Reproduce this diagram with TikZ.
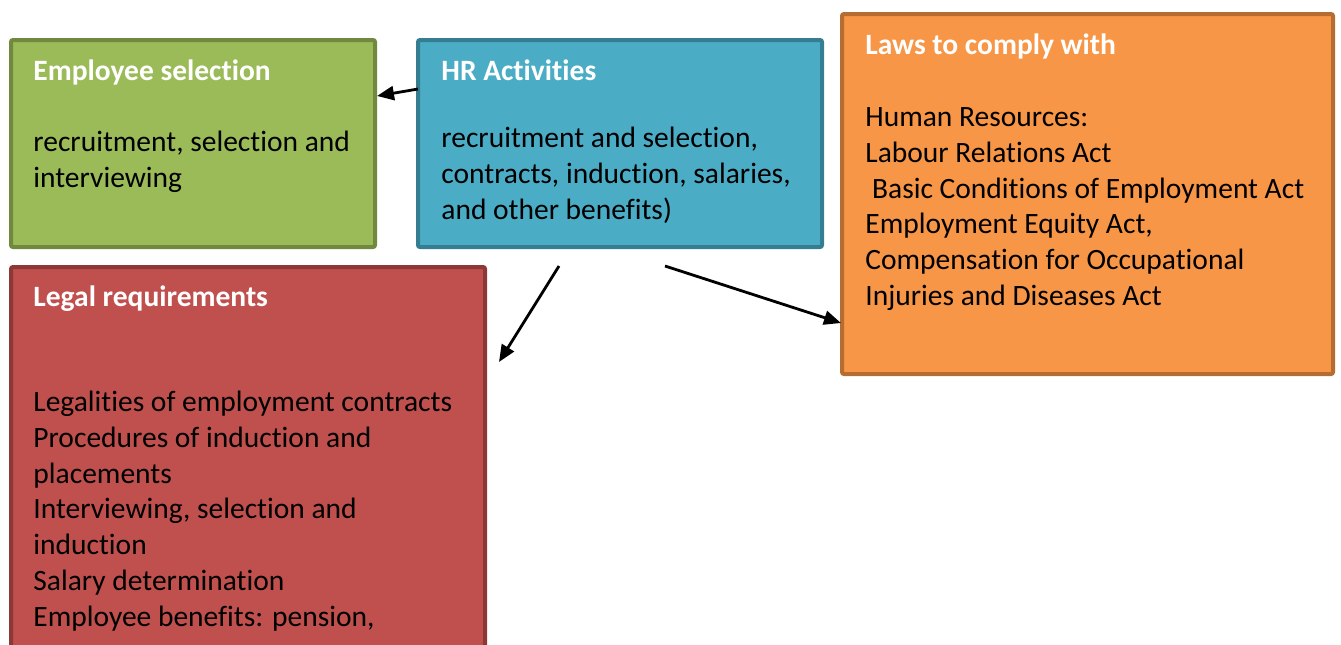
\documentclass[tikz,border=0pt]{standalone}
\usepackage{fontspec}
\setmainfont{Carlito}[Ligatures=NoCommon]
\usetikzlibrary{calc,arrows.meta}
\definecolor{gfill}{HTML}{9BBB59}
\definecolor{gline}{HTML}{71893F}
\definecolor{bfill}{HTML}{4BACC6}
\definecolor{bline}{HTML}{357D91}
\definecolor{ofill}{HTML}{F79646}
\definecolor{oline}{HTML}{B66D31}
\definecolor{rfill}{HTML}{C0504D}
\definecolor{rline}{HTML}{8C3836}
\tikzset{
  panel/.style={rectangle, line width=2pt, rounded corners=1pt, anchor=north west, inner sep=0pt, outer sep=0pt},
  head/.style={anchor=base west, inner sep=0pt, text=white, font=\fontsize{14.75}{18}\selectfont\bfseries},
  body/.style={anchor=base west, inner sep=0pt, text=black, font=\fontsize{14.75}{18}\selectfont},
  conn/.style={line width=1.4pt, -{Triangle[length=8.5pt,width=7pt]}}
}
\begin{document}
\begin{tikzpicture}[x=0.5pt,y=-0.5pt]
\useasboundingbox (0,0) rectangle (1341,644);
\clip (0,0) rectangle (1341,644);
% panels
\node[panel, fill=gfill, draw=gline, minimum width=182pt, minimum height=103.5pt] (green) at (11,40) {};
\node[panel, fill=bfill, draw=bline, minimum width=202pt, minimum height=103.5pt] (blue) at (418,40) {};
\node[panel, fill=ofill, draw=oline, minimum width=245.5pt, minimum height=180pt] (orange) at (842,14) {};
\node[panel, fill=rfill, draw=rline, minimum width=237pt, minimum height=216pt] (red) at (11,267) {};
% green text
\node[head] (gh) at (33,80) {Employee selection};
\node[body] (gb1) at (33,151) {recruitment, selection and};
\node[body] (gb2) at (33,187) {interviewing};
% blue text
\node[head] (bh) at (441,80) {HR Activities};
\node[body] (bb1) at (441,147) {recruitment and selection,};
\node[body] (bb2) at (441,183) {contracts, induction, salaries,};
\node[body] (bb3) at (441,219) {and other benefits)};
% orange text
\node[head] (oh) at (865,54) {Laws to comply with};
\node[body] (ob1) at (865,126) {Human Resources:};
\node[body] (ob2) at (865,162) {Labour Relations Act};
\node[body] (ob3) at (865,198) {\ Basic Conditions of Employment Act};
\node[body] (ob4) at (865,233) {Employment Equity Act,};
\node[body] (ob5) at (865,269) {Compensation for Occupational};
\node[body] (ob6) at (865,305) {Injuries and Diseases Act};
% red text
\node[head] (rh) at (33,306) {Legal requirements};
\node[body] (rb1) at (33,411) {Legalities of employment contracts};
\node[body] (rb2) at (33,447) {Procedures of induction and};
\node[body] (rb3) at (33,483) {placements};
\node[body] (rb4) at (33,518) {Interviewing, selection and};
\node[body] (rb5) at (33,554) {induction};
\node[body] (rb6) at (33,590) {Salary determination};
\node[body] (rb7) at (33,626) {Employee benefits: pension,};
% connectors
\coordinate (a1s) at ($(blue.north west)+(0,49)$);
\coordinate (a1e) at ($(green.north east)+(2,56)$);
\draw[conn] (a1s) -- (a1e);
\coordinate (a2s) at (559,266);
\coordinate (a2e) at (499,362);
\draw[conn] (a2s) -- (a2e);
\coordinate (a3s) at (665,266);
\coordinate (a3e) at ($(orange.north west)+(-1,309)$);
\draw[conn] (a3s) -- (a3e);
\end{tikzpicture}
\end{document}
